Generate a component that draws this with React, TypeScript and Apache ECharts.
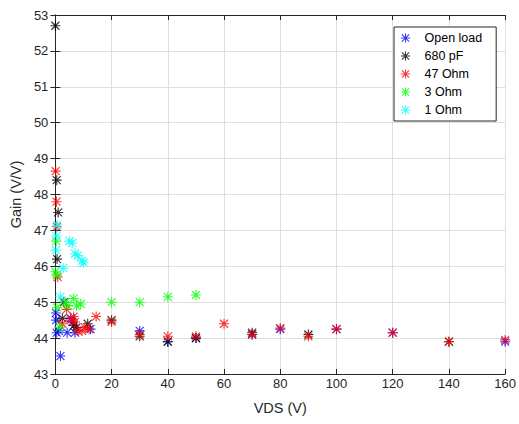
import React, { useEffect, useRef } from "react";
import * as echarts from "echarts";

const seriesNames = ["Open load", "680 pF", "47 Ohm", "3 Ohm", "1 Ohm"];
const seriesColors = ["#0000ff", "#000000", "#ff0000", "#00ff00", "#00ffff"];

const openLoad: number[][] = [
  [0.2, 44.7], [0.3, 44.5], [0.5, 44.15], [1.8, 43.5], [1.2, 44.2], [4.2, 44.15],
  [5.5, 44.55], [6, 44.45], [7, 44.15], [12.5, 44.25], [30, 44.2], [40, 43.9],
  [50, 44.0], [70, 44.1], [80, 44.25], [100, 44.25], [120, 44.15], [160, 43.9],
];
const pf680: number[][] = [
  [0, 52.7], [0.5, 48.4], [1, 47.5], [0.6, 46.2], [2.5, 44.55], [3, 45.0],
  [6.5, 44.35], [7.5, 44.3], [11.5, 44.4], [20, 44.5], [30, 44.05], [40, 43.9],
  [50, 44.0], [70, 44.15], [90, 44.1], [140, 43.9],
];
const ohm47: number[][] = [
  [0.1, 48.65], [0.4, 47.8], [0.5, 47.1], [0.8, 45.7], [2.5, 44.4], [4, 44.8],
  [5.5, 44.5], [6.5, 44.6], [7, 44.45], [8, 44.2], [9.5, 44.2], [10.5, 44.3],
  [12, 44.25], [14.5, 44.6], [20, 44.45], [30, 44.1], [40, 44.05], [50, 44.05],
  [60, 44.4], [70, 44.1], [80, 44.28], [90, 44.05], [100, 44.25], [120, 44.15],
  [140, 43.9], [160, 43.95],
];
const ohm3: number[][] = [
  [0.3, 46.7], [0, 45.85], [0.6, 45.75], [0.6, 44.85], [1.5, 44.3], [3.5, 45.0],
  [4.5, 44.9], [6.5, 45.1], [7.5, 44.9], [9, 44.95], [20, 45.0], [30, 45.0],
  [40, 45.15], [50, 45.2],
];
const ohm1: number[][] = [
  [0.7, 47.15], [0.4, 46.85], [0.2, 46.45], [2.8, 45.95], [5, 46.7], [6, 46.65],
  [7, 46.35], [8, 46.3], [9.5, 46.15], [10, 46.1], [1.8, 45.15],
];
const allData = [openLoad, pf680, ohm47, ohm3, ohm1];

const xTicks = { min: 0, max: 160, interval: 20 };
const yTicks = { min: 43, max: 53, interval: 1 };

const STAR =
  "path://M0 8.9 H20 V11.1 H0 Z M8.9 0 H11.1 V20 H8.9 Z " +
  "M1.2 2.8 L2.8 1.2 L18.8 17.2 L17.2 18.8 Z M17.2 1.2 L18.8 2.8 L2.8 18.8 L1.2 17.2 Z";

const FONT = "'Liberation Sans', Arial, sans-serif";
const TXT = "#262626";

export default function App() {
  const ref = useRef<HTMLDivElement>(null);
  useEffect(() => {
    if (!ref.current) return;
    const chart = echarts.init(ref.current, undefined, { renderer: "svg" });
    const axisLine = { show: true, lineStyle: { color: "#262626", width: 1 } };
    const tick = { show: true, inside: true, length: 5, lineStyle: { color: "#262626" } };
    chart.setOption({
      animation: false,
      backgroundColor: "#ffffff",
      textStyle: { fontFamily: FONT },
      grid: { left: 53, right: 10, top: 15, bottom: 50, containLabel: false },
      legend: {
        orient: "vertical",
        left: 394,
        top: 27,
        backgroundColor: "#ffffff",
        borderColor: "#262626",
        borderWidth: 1,
        padding: [4, 14, 4, 7],
        itemWidth: 24,
        itemHeight: 9,
        itemGap: 4,
        textStyle: { fontFamily: FONT, fontSize: 12.5, color: "#000", lineHeight: 14, padding: [0, 0, 0, 2] },
        data: seriesNames.map((n, i) => ({ name: n, icon: STAR, itemStyle: { color: seriesColors[i] } })),
      },
      xAxis: [
        {
          type: "value",
          ...xTicks,
          position: "bottom",
          name: "VDS (V)",
          nameLocation: "middle",
          nameGap: 26,
          nameTextStyle: { fontFamily: FONT, fontSize: 14.5, color: TXT },
          axisLine,
          axisTick: tick,
          axisLabel: { fontFamily: FONT, fontSize: 13, color: TXT, margin: 3 },
          splitLine: { show: true, lineStyle: { color: "#dfdfdf", width: 1 } },
        },
        {
          type: "value",
          ...xTicks,
          position: "top",
          axisLine,
          axisTick: tick,
          axisLabel: { show: false },
          splitLine: { show: false },
        },
      ],
      yAxis: [
        {
          type: "value",
          ...yTicks,
          position: "left",
          name: "Gain (V/V)",
          nameLocation: "middle",
          nameGap: 27,
          nameTextStyle: { fontFamily: FONT, fontSize: 14.5, color: TXT },
          axisLine,
          axisTick: tick,
          axisLabel: { fontFamily: FONT, fontSize: 13, color: TXT, margin: 7 },
          splitLine: { show: true, lineStyle: { color: "#dfdfdf", width: 1 } },
        },
        {
          type: "value",
          ...yTicks,
          position: "right",
          axisLine,
          axisTick: tick,
          axisLabel: { show: false },
          splitLine: { show: false },
        },
      ],
      series: seriesNames.map((n, i) => ({
        name: n,
        type: "scatter",
        xAxisIndex: 0,
        yAxisIndex: 0,
        symbol: STAR,
        symbolSize: 10,
        itemStyle: { color: seriesColors[i] },
        data: allData[i],
      })),
    });
    return () => chart.dispose();
  }, []);
  return (
    <div
      ref={ref}
      style={{ position: "absolute", left: 0, top: 0, width: 519, height: 424 }}
    />
  );
}
